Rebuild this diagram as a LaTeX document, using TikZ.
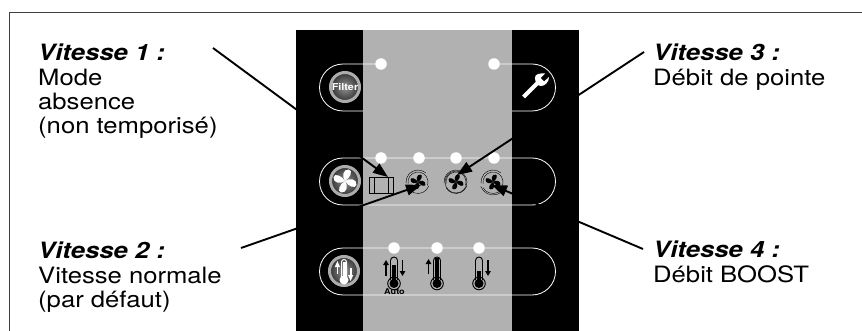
\documentclass[tikz,border=0pt]{standalone}
\usepackage{fontspec}
\setmainfont[FakeStretch=1.14]{TeX Gyre Heros}
\usetikzlibrary{arrows.meta}
\definecolor{panelgray}{HTML}{B1B1B1}
\tikzset{
  x=1pt,y=-1pt,
  callout/.style={anchor=north west,align=left,inner sep=0pt,font=\fontsize{22.5}{24.3}\selectfont},
  pill/.style={draw=white,line width=0.8pt},
  led/.style={circle,fill=white,draw=none,minimum size=11.5pt,inner sep=0pt},
  knob/.style={circle,minimum size=29pt,inner sep=0pt,draw=gray!65,line width=3pt,inner color=gray!85,outer color=black!80,font=\bfseries\fontsize{9.5}{9.5}\selectfont,text=white},
  lead/.style={draw=black,line width=1.9pt,-{Triangle[length=15pt,width=11pt]}},
  icon/.style={draw=black,line width=0.7pt},
  tarrow/.style={black,line width=1.8pt,-{Triangle[length=5pt,width=5.5pt]}},
}
\newcommand{\fanblades}[3]{%
 \begin{scope}[shift={(#1,#2)},scale=#3]
  \foreach \a in {45,135,225,315}{
   \fill[rotate=\a] (0,0) .. controls (0.5,-3.5) and (4.5,-6.5) .. (7,-3.5) .. controls (8.5,-1) and (4,1) .. (0,0) -- cycle;
  }
 \end{scope}}
\newcommand{\swirl}[2]{%
 \begin{scope}[shift={(#1,#2)}]
  \draw[line width=0.4pt] (0,0) ++(170:10) arc[start angle=170,end angle=380,radius=10];
  \draw[line width=0.4pt] (0,0) ++(20:11.5) arc[start angle=20,end angle=150,radius=11.5];
  \draw[line width=0.4pt] (0,0) ++(175:12) arc[start angle=175,end angle=310,radius=12];
 \end{scope}}
\newcommand{\thermo}[2]{%
  \draw[black,line width=0.9pt] (#1-3.5,280) -- (#1-3.5,260.5) arc[start angle=180,end angle=360,radius=3.5] -- (#1+3.5,280);
  \fill[black] (#1-2.2,#2) rectangle (#1+2.2,284);
  \fill[black] (#1,283.5) circle[radius=4.5];
  \draw[black,line width=0.9pt] (#1,283.5) circle[radius=6.3];
}
\begin{document}
\begin{tikzpicture}
\useasboundingbox (0,0) rectangle (862,331);
\fill[white] (0,0) rectangle (862,331);
\draw[black!75,line width=0.8pt] (9,331) -- (9,12.5) -- (862,12.5);
\fill[black] (296,30) rectangle (579,331);
\fill[panelgray] (363,30) rectangle (512,331);

% pills
\draw[pill] (381,64) -- (343,64) arc[start angle=-90,end angle=-270,radius=23.5] -- (363,111);
\draw[pill] (494,64) -- (532,64) arc[start angle=-90,end angle=90,radius=23.5] -- (512,111);
\draw[pill] (343,158) arc[start angle=-90,end angle=-270,radius=23.5] -- (532,205) arc[start angle=90,end angle=-90,radius=23.5] -- cycle;
\draw[pill] (343,248) arc[start angle=-90,end angle=-270,radius=23.5] -- (532,295) arc[start angle=90,end angle=-90,radius=23.5] -- cycle;

% LEDs
\foreach \n/\x/\y in {a/381/64,b/494/64,c/381/158,d/419/158,e/456/158,f/494/158,g/394/248,h/437/248,i/479/248}
  \node[led] (led\n) at (\x,\y) {};

% knobs
\node[knob] (kfilter) at (345,87) {Filter};
\node[knob] (kfan) at (345,181) {};
\begin{scope}[white]\fanblades{345}{181}{1.55}\end{scope}
\node[knob] (ktemp) at (344,271) {};
\draw[white,line width=1pt] (341.5,277) -- (341.5,262) arc[start angle=180,end angle=360,radius=2.5] -- (346.5,277);
\fill[white] (344,280) circle[radius=4.5];
\fill[white] (342.5,262) rectangle (345.5,278);
\fill[white] (336.5,266) rectangle (338.3,274);
\fill[white] (334.8,267) -- (337.4,261) -- (340,267) -- cycle;
\fill[white] (349.7,268) rectangle (351.5,276);
\fill[white] (348,275) -- (350.6,281) -- (353.2,275) -- cycle;

% wrench
\begin{scope}[white]
\draw[line width=4.2pt] (523.5,97) -- (537,83.5);
\fill (535,77.5) .. controls (535,82) and (537,86) .. (541,86) .. controls (545,86) and (549,82) .. (549,77) -- (544,81.5) -- (540.5,78) -- (545,73.5) .. controls (540,73) and (535,74) .. (535,77.5) -- cycle;
\end{scope}

% suitcase
\draw[icon,line width=0.9pt] (369.5,177.5) rectangle (393,193);
\draw[icon] (374,177.5) -- (374,193) (388.5,177.5) -- (388.5,193);

% fans
\swirl{418}{182}\fanblades{418}{182}{1}
\swirl{456}{182}\draw[line width=0.4pt] (456,182) circle[radius=11];\fanblades{456}{182}{1}
\swirl{493}{182}\draw[line width=0.4pt] (493,182) ++(160:13) arc[start angle=160,end angle=20,radius=13];\fanblades{493}{182}{1}

% thermometers
\thermo{394}{265}
\thermo{437}{258}
\thermo{479}{271}
\node[font=\bfseries\fontsize{8}{8}\selectfont,inner sep=0pt] (auto) at (394.5,291.5) {Auto};
\coordinate (ta1) at (386,276); \coordinate (ta2) at (386,260);
\coordinate (tb1) at (402.5,260); \coordinate (tb2) at (402.5,276);
\coordinate (tc1) at (428.5,274); \coordinate (tc2) at (428.5,259);
\coordinate (td1) at (488,260); \coordinate (td2) at (488,276);
\draw[tarrow] (ta1) -- (ta2);
\draw[tarrow] (tb1) -- (tb2);
\draw[tarrow] (tc1) -- (tc2);
\draw[tarrow] (td1) -- (td2);

% callouts
\node[callout] (v1) at (38,44) {\textbf{\textit{Vitesse 1 :}}\\Mode\\absence\\(non temporisé)};
\node[callout] (v2) at (38,242) {\textbf{\textit{Vitesse 2 :}}\\Vitesse normale\\(par défaut)};
\node[callout] (v3) at (653,44) {\textbf{\textit{Vitesse 3 :}}\\Débit de pointe};
\node[callout] (v4) at (653,241) {\textbf{\textit{Vitesse 4 :}}\\Débit BOOST};

% leaders
\coordinate (s1) at (213,48); \coordinate (t1) at (388,177);
\coordinate (s2) at (241,248); \coordinate (t2) at (421,185);
\coordinate (s3) at (644,52); \coordinate (t3) at (457,175);
\coordinate (s4) at (643,249); \coordinate (t4) at (492,185);
\draw[lead] (s1) -- (t1);
\draw[lead] (s2) -- (t2);
\draw[lead] (s3) -- (t3);
\draw[lead] (s4) -- (t4);
\end{tikzpicture}
\end{document}
